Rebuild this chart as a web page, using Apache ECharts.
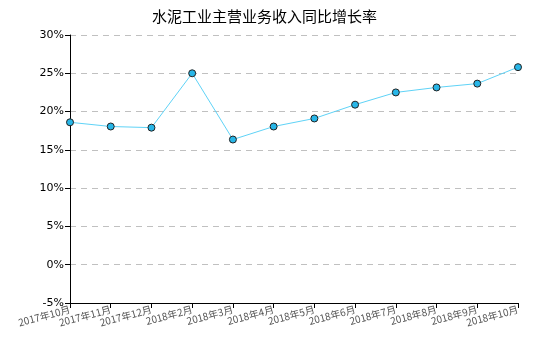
<!DOCTYPE html>
<html><head><meta charset="utf-8">
<script src="https://cdn.jsdelivr.net/npm/echarts@6/dist/echarts.min.js"></script>
<style>html,body{margin:0;padding:0;background:#fff}#c{width:550px;height:350px}</style>
</head><body><div id="c"></div>
<script>
var titleText = '水泥工业主营业务收入同比增长率';
var categories = ['2017年10月','2017年11月','2017年12月','2018年2月','2018年3月','2018年4月','2018年5月','2018年6月','2018年7月','2018年8月','2018年9月','2018年10月'];
var values = [18.6, 18.05, 17.9, 25.0, 16.35, 18.05, 19.1, 20.9, 22.5, 23.15, 23.65, 25.8];
var yMin = -5, yMax = 30, yStep = 5;

var chart = echarts.init(document.getElementById('c'), null, {renderer:'canvas'});
chart.setOption({
  animation:false,
  backgroundColor:'#fff',
  title:{text:titleText, left:147, top:4, textStyle:{fontSize:15, fontWeight:'normal', color:'#000', fontFamily:'Noto Sans CJK SC'}},
  grid:{left:70, right:32, top:35, bottom:47, containLabel:false},
  xAxis:{type:'category', data:categories, boundaryGap:false,
    axisLine:{onZero:false, lineStyle:{color:'#000', width:1}},
    axisTick:{alignWithLabel:true, length:5, lineStyle:{color:'#000'}},
    axisLabel:{rotate:15, fontSize:10, color:'#555', margin:6, interval:0, fontFamily:'Noto Sans CJK SC'},
    splitLine:{show:false}},
  yAxis:{type:'value', min:yMin, max:yMax, interval:yStep,
    axisLine:{show:true, lineStyle:{color:'#000', width:1}},
    axisTick:{show:true, length:5, lineStyle:{color:'#000'}},
    axisLabel:{formatter:'{value}%', fontSize:11, color:'#000', margin:6, fontFamily:'DejaVu Sans'},
    splitLine:{show:true, lineStyle:{color:'#c0c0c0', type:[6,5]}}},
  series:[{type:'line', data:values, symbol:'circle', symbolSize:7,
    lineStyle:{color:'#5fd3f7', width:1},
    itemStyle:{color:'#27b6e8', borderColor:'#222', borderWidth:1}}]
});
</script></body></html>
